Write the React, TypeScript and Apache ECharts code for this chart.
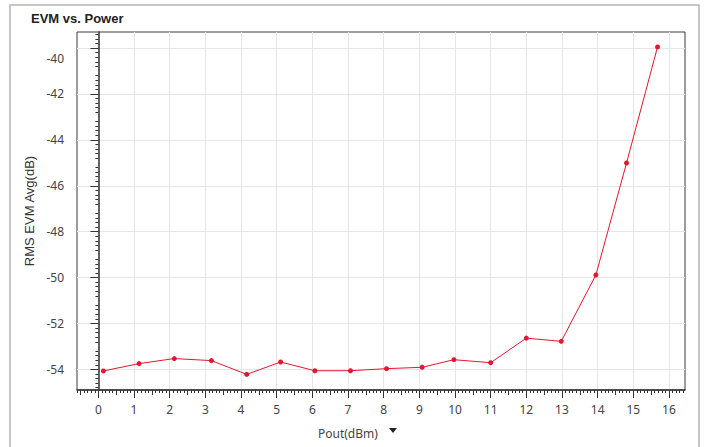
import React, { useEffect, useRef } from "react";
import * as echarts from "echarts";

const xValues = [0.14, 1.14, 2.13, 3.17, 4.16, 5.11, 6.07, 7.07, 8.08, 9.08, 9.97, 11.0, 12.0, 12.98, 13.95, 14.81, 15.68];
const yValues = [-54.07, -53.75, -53.53, -53.62, -54.22, -53.68, -54.06, -54.06, -53.97, -53.91, -53.58, -53.71, -52.64, -52.78, -49.89, -45.01, -39.95];
const xTickLabels = [0, 1, 2, 3, 4, 5, 6, 7, 8, 9, 10, 11, 12, 13, 14, 15, 16];
const yTickLabels = [-54, -52, -50, -48, -46, -44, -42, -40];

const X_MIN = -0.6;
const X_MAX = 16.45;
const Y_MIN = -54.9;
const Y_MAX = -39.3;

function buildTicks(from: number, to: number, step: number, keep: (v: number) => boolean) {
  const out: number[] = [];
  const n = Math.round((to - from) / step);
  for (let i = 0; i <= n; i++) {
    const v = Math.round((from + i * step) * 1000) / 1000;
    if (keep(v)) out.push(v);
  }
  return out;
}

const isInt = (v: number) => Math.abs(v - Math.round(v)) < 1e-6;
const xMinor = buildTicks(-0.6, 16.4, 0.1, (v) => !isInt(v * 2));
const xMedium = buildTicks(-0.5, 16.5, 1, (v) => v > X_MIN && v < X_MAX);
const yMinor = buildTicks(-54.8, -39.4, 0.2, (v) => !isInt(v));
const yMedium = buildTicks(-55, -39, 2, (v) => v > Y_MIN && v < Y_MAX).map((v) => v + 1).filter((v) => v < Y_MAX);

const labelFont = "'Noto Sans', 'Open Sans', sans-serif";
const tickColor = "#333";

export default function App() {
  const ref = useRef<HTMLDivElement>(null);
  useEffect(() => {
    if (!ref.current) return;
    const chart = echarts.init(ref.current, undefined, { renderer: "svg" });
    const baseX = { type: "value", min: X_MIN, max: X_MAX, position: "bottom", gridIndex: 0 };
    const baseY = { type: "value", min: Y_MIN, max: Y_MAX, position: "left", gridIndex: 0 };
    chart.setOption({
      animation: false,
      backgroundColor: "#fff",
      grid: {
        left: 77,
        top: 32,
        right: 25,
        bottom: 57,
        show: true,
        borderColor: "#3a3a3a",
        borderWidth: 1,
        containLabel: false,
      },
      xAxis: [
        {
          ...baseX,
          splitNumber: 17,
          axisLine: { show: true, lineStyle: { color: tickColor, width: 1.5 } },
          axisTick: { show: true, customValues: xTickLabels, length: 8, lineStyle: { color: tickColor } },
          axisLabel: {
            customValues: xTickLabels,
            margin: 13,
            fontFamily: labelFont,
            fontSize: 12,
            color: "#444",
          },
          splitLine: { show: true, lineStyle: { color: "#e6e6e6", width: 1 } },
        },
        {
          ...baseX,
          axisLine: { show: false },
          axisTick: { show: true, customValues: xMinor, length: 3, lineStyle: { color: tickColor } },
          axisLabel: { show: false },
          splitLine: { show: false },
        },
        {
          ...baseX,
          axisLine: { show: false },
          axisTick: { show: true, customValues: xMedium, length: 5, lineStyle: { color: tickColor } },
          axisLabel: { show: false },
          splitLine: { show: false },
        },
      ],
      yAxis: [
        {
          ...baseY,
          splitNumber: 8,
          name: "RMS EVM Avg(dB)",
          nameLocation: "middle",
          nameRotate: 90,
          nameGap: 39,
          nameTextStyle: { fontFamily: "'Liberation Sans', Arial, sans-serif", fontSize: 13, color: "#333" },
          axisLine: { show: true, lineStyle: { color: tickColor, width: 1.5 } },
          axisTick: { show: true, customValues: yTickLabels, length: 8, lineStyle: { color: tickColor } },
          axisLabel: {
            customValues: yTickLabels,
            margin: 13,
            fontFamily: labelFont,
            fontSize: 12,
            color: "#444",
            formatter: (v: number) => (v === -40 ? "{low|-40}" : String(v)),
            rich: {
              low: { fontFamily: labelFont, fontSize: 12, color: "#444", padding: [20, 0, 0, 0] },
            },
          },
          splitLine: { show: true, lineStyle: { color: "#e6e6e6", width: 1 } },
        },
        {
          ...baseY,
          axisLine: { show: false },
          axisTick: { show: true, customValues: yMinor, length: 3, lineStyle: { color: tickColor } },
          axisLabel: { show: false },
          splitLine: { show: false },
        },
        {
          ...baseY,
          axisLine: { show: false },
          axisTick: { show: true, customValues: yMedium, length: 5, lineStyle: { color: tickColor } },
          axisLabel: { show: false },
          splitLine: { show: false },
        },
      ],
      series: [
        {
          type: "line",
          xAxisIndex: 0,
          yAxisIndex: 0,
          data: xValues.map((x, i) => [x, yValues[i]]),
          symbol: "circle",
          symbolSize: 5,
          showSymbol: true,
          color: "#e3172f",
          lineStyle: { color: "#e3172f", width: 1 },
          itemStyle: { color: "#e3172f" },
        },
      ],
      graphic: [
        {
          type: "rect",
          shape: { x: 10, y: 5, width: 689, height: 470 },
          style: { fill: "none", stroke: "#b4b4b4", lineWidth: 1.5 },
          silent: true,
          z: -1,
        },
        {
          type: "text",
          x: 31,
          y: 18,
          style: {
            text: "EVM vs. Power",
            font: "bold 13px 'Liberation Sans', Arial, sans-serif",
            fill: "#222",
            verticalAlign: "middle",
          },
        },
        {
          type: "text",
          x: 318,
          y: 433,
          style: {
            text: "Pout(dBm)",
            font: `12px ${labelFont}`,
            fill: "#444",
            verticalAlign: "middle",
          },
        },
        {
          type: "polygon",
          shape: { points: [[389, 428], [397, 428], [393, 433]] },
          style: { fill: "#222" },
        },
      ],
    });
    return () => chart.dispose();
  }, []);
  return (
    <div
      ref={ref}
      style={{ position: "fixed", left: 0, top: 0, width: 710, height: 447, background: "#fff" }}
    />
  );
}
